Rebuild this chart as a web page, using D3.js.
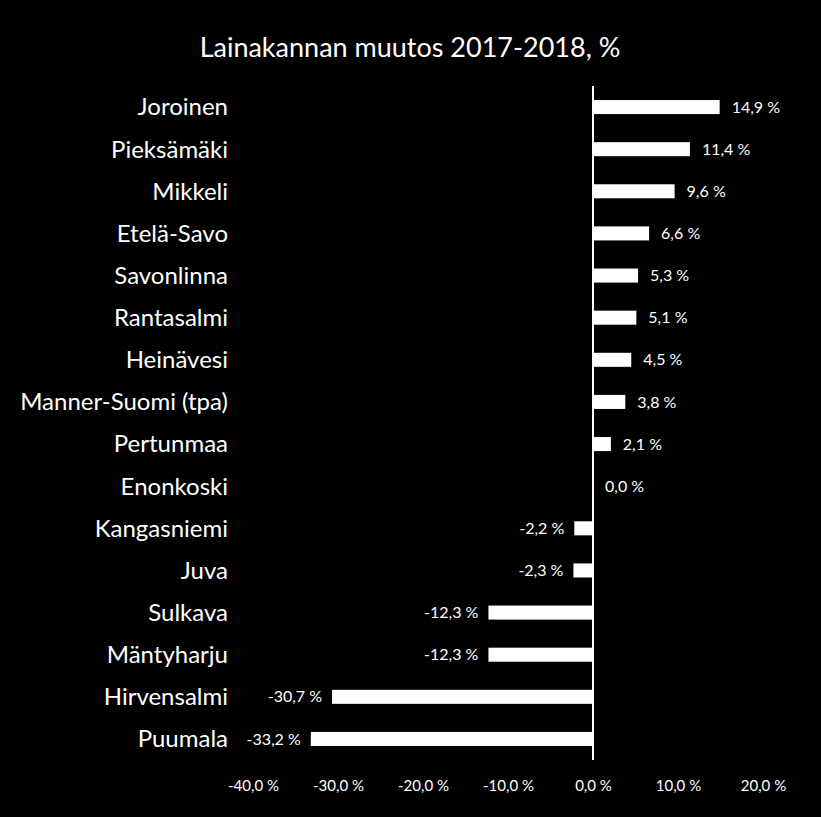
<!DOCTYPE html>
<html><head><meta charset="utf-8">
<script src="https://cdn.jsdelivr.net/npm/d3@7"></script>
<style>html,body{margin:0;padding:0;background:#000;}svg{display:block;}</style>
</head><body>
<script>
const categories = ["Joroinen","Pieksämäki","Mikkeli","Etelä-Savo","Savonlinna","Rantasalmi","Heinävesi","Manner-Suomi (tpa)","Pertunmaa","Enonkoski","Kangasniemi","Juva","Sulkava","Mäntyharju","Hirvensalmi","Puumala"];
const values = [14.9,11.4,9.6,6.6,5.3,5.1,4.5,3.8,2.1,0.0,-2.2,-2.3,-12.3,-12.3,-30.7,-33.2];
const tickValues = [-40,-30,-20,-10,0,10,20];
const title = "Lainakannan muutos 2017-2018, %";

const W = 821, H = 817;
const font = "Lato, 'Open Sans', sans-serif";
const fmt = v => d3.format(".1f")(v).replace(".", ",").replace("−","-") + " %";

const svg = d3.select("body").append("svg").attr("width", W).attr("height", H)
  .style("background", "#000");

const x = d3.scaleLinear().domain([-40, 20]).range([253, 763]);
const y = d3.scaleBand().domain(categories).range([86, 760]).paddingInner(0.667).paddingOuter(0.333);

svg.append("text").attr("x", 410).attr("y", 57).attr("text-anchor", "middle")
  .attr("fill", "#fff").style("font-family", font).style("font-size", "27px").text(title);

const data = categories.map((c, i) => ({c, v: values[i]}));

svg.selectAll("rect.bar").data(data).join("rect").attr("class", "bar")
  .attr("x", d => x(Math.min(0, d.v)))
  .attr("width", d => Math.abs(x(d.v) - x(0)))
  .attr("y", d => y(d.c))
  .attr("height", y.bandwidth())
  .attr("fill", "#fff");

// zero axis line
svg.append("line").attr("x1", x(0)).attr("x2", x(0)).attr("y1", 86).attr("y2", 760)
  .attr("stroke", "#fff").attr("stroke-width", 2);

// category labels
svg.selectAll("text.cat").data(data).join("text").attr("class", "cat")
  .attr("x", 228).attr("y", d => y(d.c) + y.bandwidth() / 2).attr("dy", "0.35em")
  .attr("text-anchor", "end").attr("fill", "#fff")
  .style("font-family", font).style("font-size", "24px").text(d => d.c);

// value labels
svg.selectAll("text.val").data(data).join("text").attr("class", "val")
  .attr("x", d => d.v >= 0 ? x(d.v) + 12 : x(d.v) - 10)
  .attr("y", d => y(d.c) + y.bandwidth() / 2).attr("dy", "0.35em")
  .attr("text-anchor", d => d.v >= 0 ? "start" : "end").attr("fill", "#fff")
  .style("font-family", font).style("font-size", "16px").text(d => fmt(d.v));

// x axis tick labels
const ax = svg.append("g").attr("transform", "translate(0,777)")
  .call(d3.axisBottom(x).tickValues(tickValues).tickSize(0).tickFormat(fmt));
ax.select(".domain").remove();
ax.selectAll("text").attr("fill", "#fff").style("font-family", font).style("font-size", "15px");
</script>
</body></html>
